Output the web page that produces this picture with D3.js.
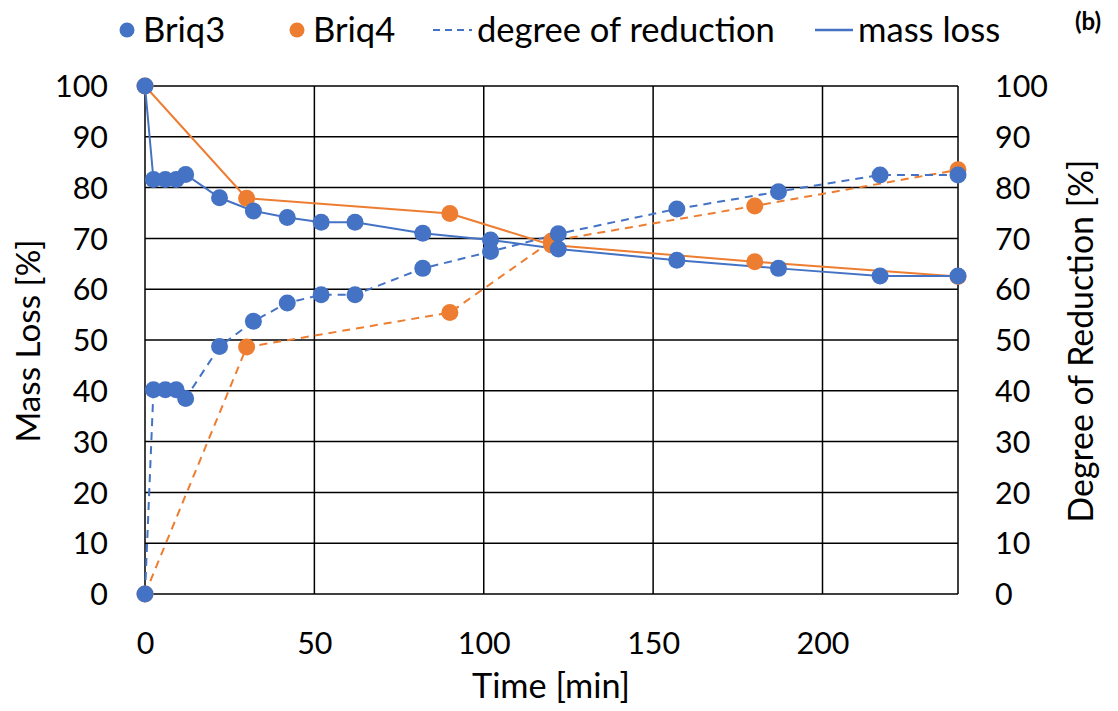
<!DOCTYPE html>
<html><head><meta charset="utf-8">
<script src="https://cdn.jsdelivr.net/npm/d3@7"></script>
<style>body{margin:0;background:#fff}svg text{font-family:Lato,"Open Sans",sans-serif;}</style>
</head><body><svg id="c" width="1118" height="711"></svg>
<script>
const briq3Time = [0, 2.5, 6, 9.2, 12, 22, 32, 42, 52, 62, 82, 102, 122, 157, 187, 217, 240];
const briq3MassLoss = [100, 81.6, 81.6, 81.6, 82.6, 78.0, 75.4, 74.1, 73.2, 73.2, 71.0, 69.7, 67.9, 65.7, 64.1, 62.6, 62.6];
const briq3Reduction = [0, 40.2, 40.2, 40.2, 38.5, 48.7, 53.7, 57.3, 58.9, 58.9, 64.1, 67.4, 70.9, 75.8, 79.2, 82.5, 82.5];
const briq4Time = [0, 30, 90, 120, 180, 240];
const briq4MassLoss = [100, 77.9, 74.9, 68.7, 65.4, 62.5];
const briq4Reduction = [0, 48.6, 55.4, 69.5, 76.4, 83.5];
const xTicks = [0, 50, 100, 150, 200];
const yTicks = [0, 10, 20, 30, 40, 50, 60, 70, 80, 90, 100];

const BLUE = "#4472C4", ORANGE = "#ED7D31";
const svg = d3.select("#c");
const L = 145, R = 958, T = 86, B = 594;
const x = d3.scaleLinear().domain([0, 240]).range([L, R]);
const y = d3.scaleLinear().domain([0, 100]).range([B, T]);

function fitSize(str, target, weight) {
  const t = svg.append("text").attr("font-size", 100).attr("font-weight", weight || "normal").text(str);
  const w = t.node().getComputedTextLength();
  t.remove();
  return 100 * target / w;
}
const tickFs = fitSize("100", 53);
const legFs = fitSize("degree of reduction", 298);
const xTitleFs = fitSize("Time [min]", 158);
const lTitleFs = fitSize("Mass Loss [%]", 203);
const rTitleFs = fitSize("Degree of Reduction [%]", 363);

// grid
const g = svg.append("g");
g.selectAll(".hg").data(yTicks).enter().append("line")
  .attr("x1", L).attr("x2", R).attr("y1", d => y(d)).attr("y2", d => y(d))
  .attr("stroke", "#000").attr("stroke-width", 1.5);
g.selectAll(".vg").data(xTicks.concat([240])).enter().append("line")
  .attr("x1", d => x(d)).attr("x2", d => x(d)).attr("y1", T).attr("y2", B)
  .attr("stroke", "#000").attr("stroke-width", 1.5);

// axes (labels only)
const yl = d3.axisLeft(y).tickValues(yTicks).tickSize(0).tickPadding(37);
const ga = svg.append("g").attr("transform", `translate(${L},0)`).call(yl);
ga.select(".domain").remove();
ga.selectAll("text").attr("font-size", tickFs).attr("fill", "#000").attr("dy", "0.35em");
const yr = d3.axisRight(y).tickValues(yTicks).tickSize(0).tickPadding(37);
const gr = svg.append("g").attr("transform", `translate(${R},0)`).call(yr);
gr.select(".domain").remove();
gr.selectAll("text").attr("font-size", tickFs).attr("fill", "#000").attr("dy", "0.35em");
const xa = d3.axisBottom(x).tickValues(xTicks).tickSize(0).tickPadding(0);
const gx = svg.append("g").attr("transform", `translate(0,${B})`).call(xa);
gx.select(".domain").remove();
gx.selectAll("text").attr("font-size", tickFs).attr("fill", "#000").attr("y", 49).attr("dy", "0.35em");

// titles
svg.append("text").attr("x", 551).attr("y", 698).attr("text-anchor", "middle")
  .attr("font-size", xTitleFs).text("Time [min]");
svg.append("text").attr("transform", "translate(40,341) rotate(-90)").attr("text-anchor", "middle")
  .attr("font-size", lTitleFs).text("Mass Loss [%]");
svg.append("text").attr("transform", "translate(1093,341) rotate(-90)").attr("text-anchor", "middle")
  .attr("font-size", rTitleFs).text("Degree of Reduction [%]");

// series
const series = [
  {t: briq3Time, v: briq3MassLoss, c: BLUE, dash: null},
  {t: briq3Time, v: briq3Reduction, c: BLUE, dash: "8,6"},
  {t: briq4Time, v: briq4MassLoss, c: ORANGE, dash: null},
  {t: briq4Time, v: briq4Reduction, c: ORANGE, dash: "8,6"}
];
const line = d3.line().x(d => x(d[0])).y(d => y(d[1]));
[2, 3, 0, 1].forEach(i => {
  const s = series[i];
  const pts = s.t.map((t, k) => [t, s.v[k]]);
  svg.append("path").attr("d", line(pts)).attr("fill", "none").attr("stroke", s.c)
    .attr("stroke-width", 2).attr("stroke-dasharray", s.dash);
});
[2, 3, 0, 1].forEach(i => {
  const s = series[i];
  const pts = s.t.map((t, k) => [t, s.v[k]]);
  svg.append("g").selectAll("circle").data(pts).enter().append("circle")
    .attr("cx", d => x(d[0])).attr("cy", d => y(d[1])).attr("r", 8.5).attr("fill", s.c);
});

// legend
const ly = 30;
const lg = svg.append("g").attr("font-size", legFs);
lg.append("circle").attr("cx", 127).attr("cy", ly).attr("r", 7.5).attr("fill", BLUE);
lg.append("text").attr("x", 143).attr("y", ly).attr("dy", "0.35em").text("Briq3");
lg.append("circle").attr("cx", 297).attr("cy", ly).attr("r", 7.5).attr("fill", ORANGE);
lg.append("text").attr("x", 313).attr("y", ly).attr("dy", "0.35em").text("Briq4");
lg.append("line").attr("x1", 433).attr("x2", 472).attr("y1", ly).attr("y2", ly)
  .attr("stroke", BLUE).attr("stroke-width", 2).attr("stroke-dasharray", "7,5");
lg.append("text").attr("x", 477).attr("y", ly).attr("dy", "0.35em").text("degree of reduction");
lg.append("line").attr("x1", 815).attr("x2", 853).attr("y1", ly).attr("y2", ly)
  .attr("stroke", BLUE).attr("stroke-width", 2.5);
lg.append("text").attr("x", 858).attr("y", ly).attr("dy", "0.35em").text("mass loss");
svg.append("text").attr("x", 1075).attr("y", 30).attr("font-size", 24).attr("font-weight", "bold")
  .attr("font-family", "Liberation Sans, Arial, sans-serif").text("(b)");
</script></body></html>
